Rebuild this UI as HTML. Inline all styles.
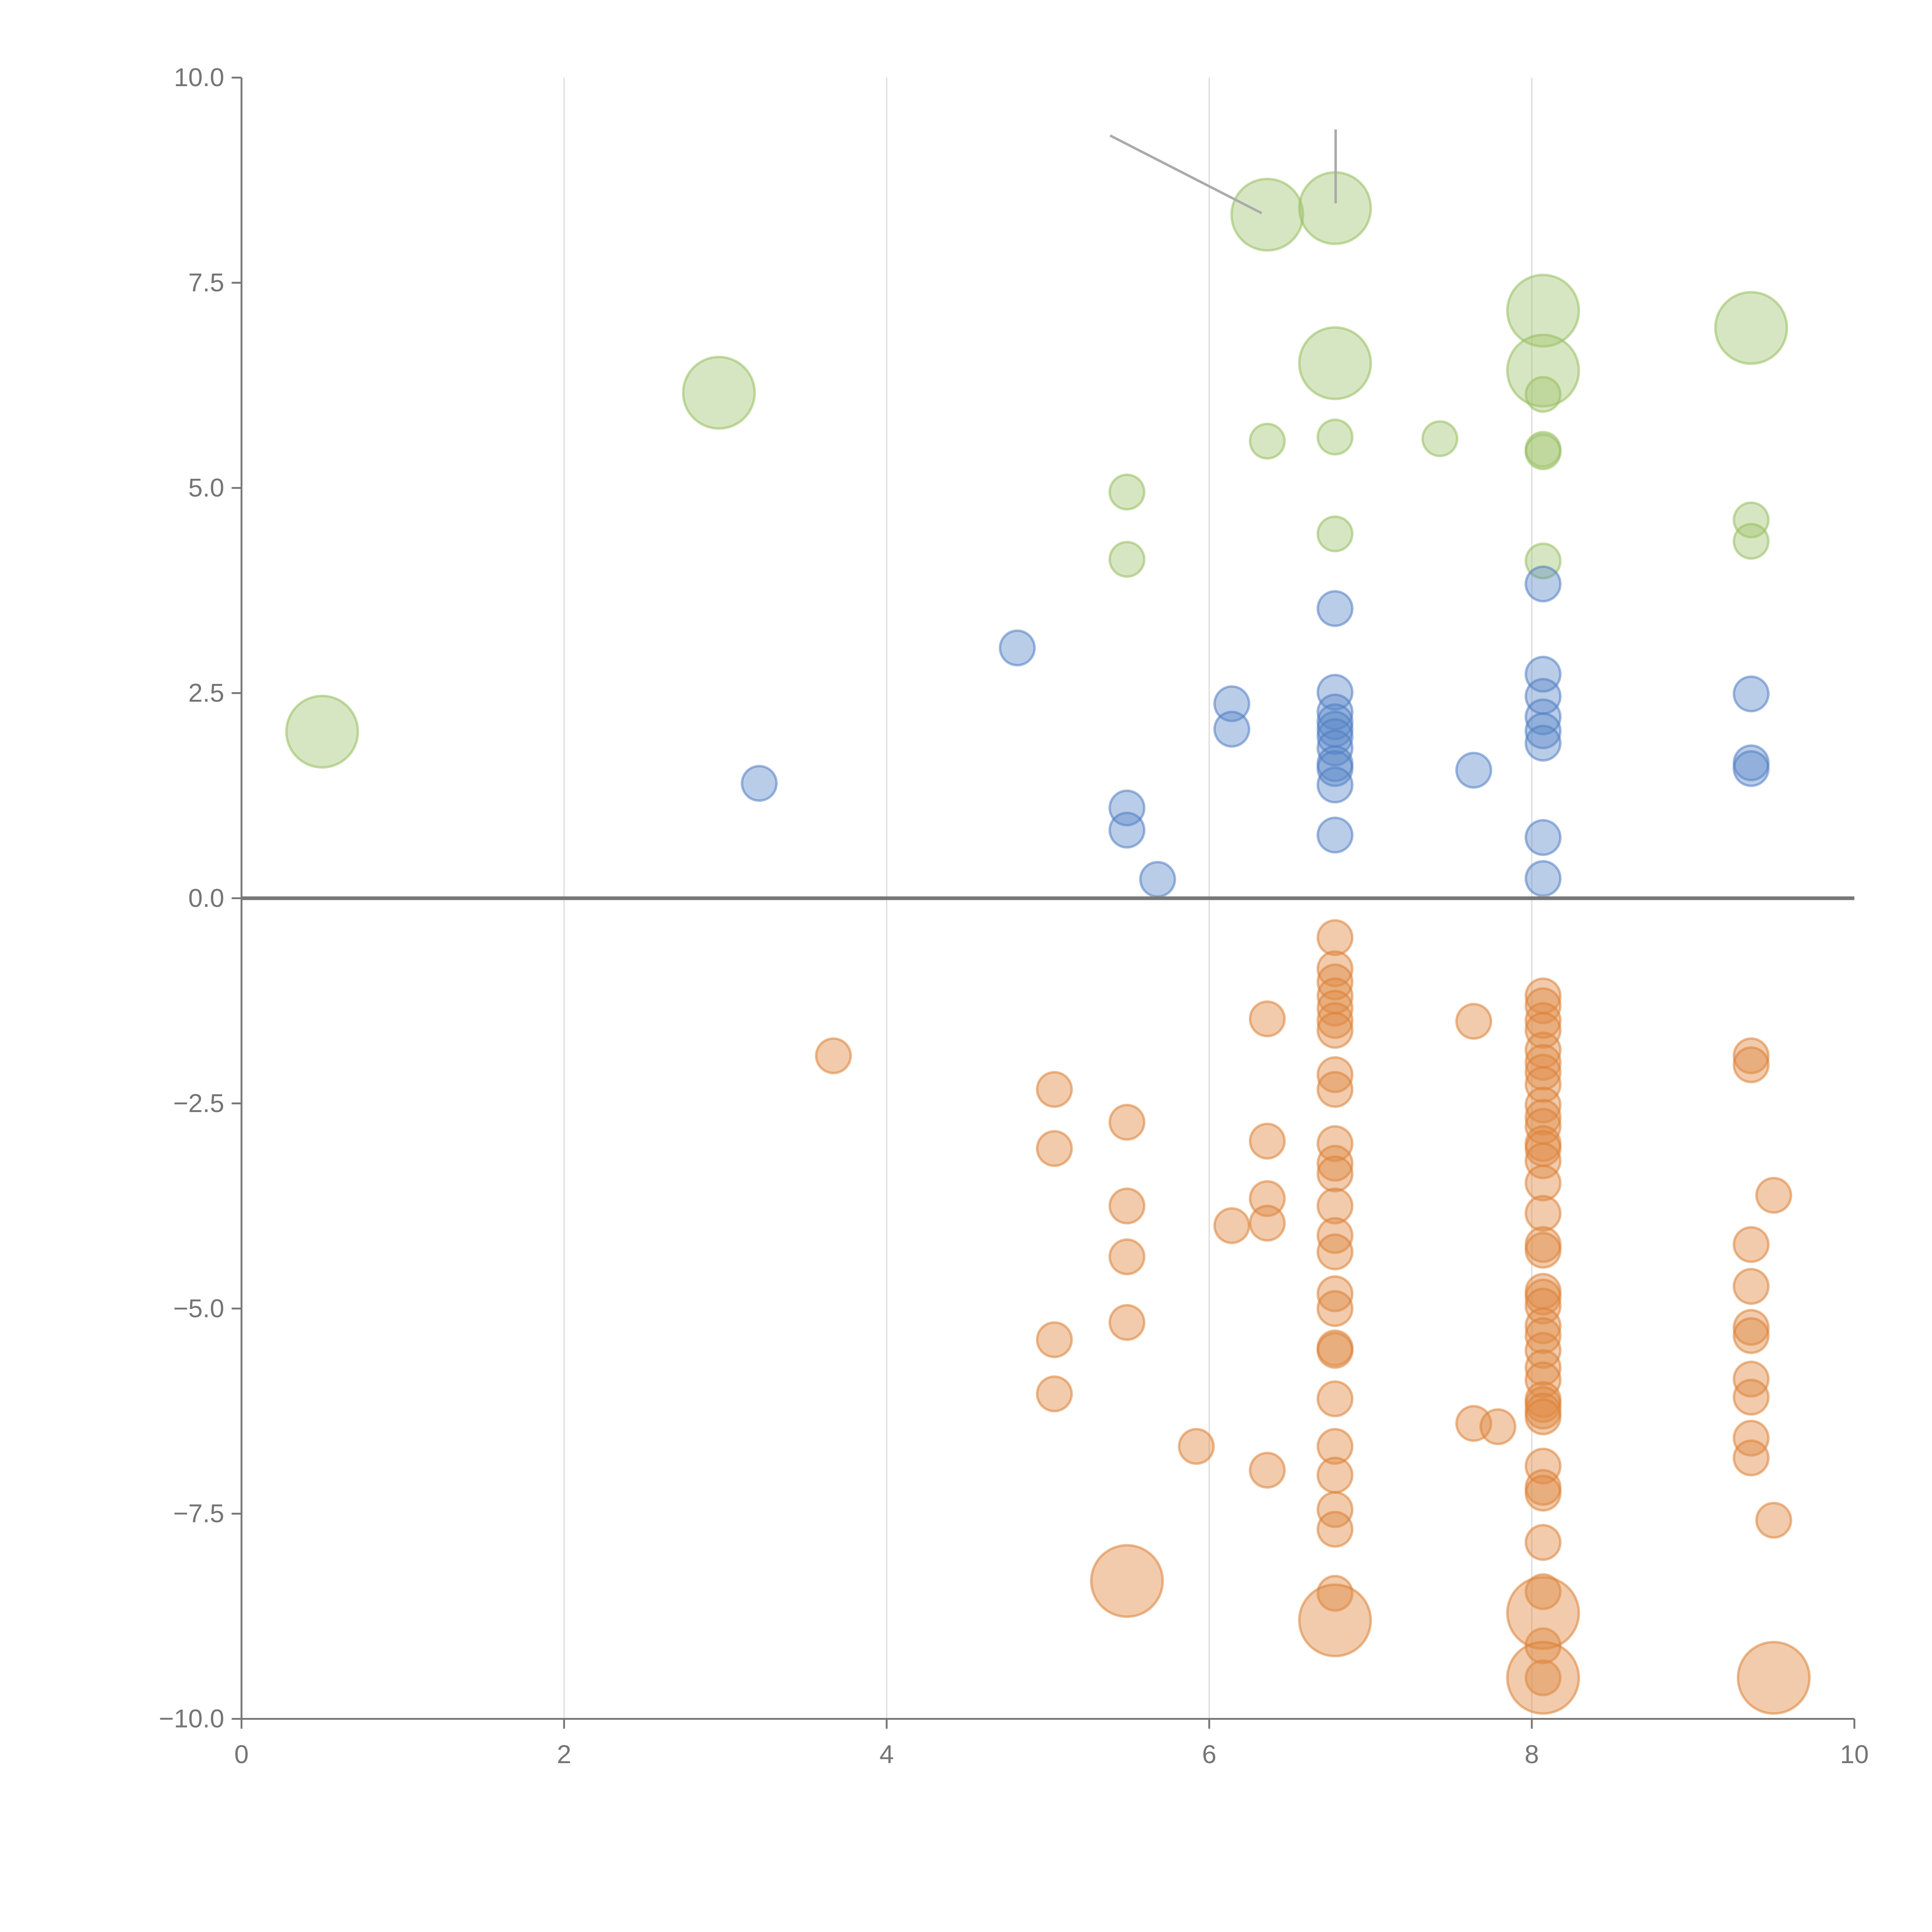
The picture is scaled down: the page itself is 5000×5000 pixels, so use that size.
<!DOCTYPE html>
<html><head><meta charset="utf-8"><style>
html,body{margin:0;padding:0;background:#fff;width:5000px;height:5000px;overflow:hidden}
svg{display:block}
text{font-family:"Liberation Sans",sans-serif;fill:#757575;font-size:21px}
</style></head><body>
<svg id="chart" width="5000" height="5000" viewBox="0 0 1568 1568" xmlns="http://www.w3.org/2000/svg">
<g id="grid"></g>
<g id="marks"></g>
<g id="axes"></g>
</svg>
<script>
const xTicks=[0,2,4,6,8,10];
const yTicks=[10,7.5,5,2.5,0,-2.5,-5,-7.5,-10];
const yTickLabels=["10.0","7.5","5.0","2.5","0.0","\u22122.5","\u22125.0","\u22127.5","\u221210.0"];
const greenX=[0.5,2.96,6.36,6.78,6.78,8.07,8.07,9.36,5.49,5.49,6.36,6.78,7.43,6.78,8.07,8.07,8.07,8.07,9.36,9.36];
const greenY=[2.03,6.16,8.33,8.41,6.52,7.16,6.43,6.95,4.95,4.13,5.57,5.62,5.6,4.44,6.14,5.47,5.44,4.11,4.61,4.35];
const greenS=[2,2,2,2,2,2,2,2,1,1,1,1,1,1,1,1,1,1,1,1];
const blueX=[3.21,4.81,5.49,5.49,5.68,6.14,6.14,6.78,6.78,6.78,6.78,6.78,6.78,6.78,6.78,6.78,6.78,6.78,7.64,8.07,8.07,8.07,8.07,8.07,8.07,8.07,8.07,9.36,9.36,9.36];
const blueY=[1.40,3.05,1.10,0.83,0.23,2.37,2.06,3.53,2.51,2.27,2.15,2.06,1.97,1.83,1.64,1.58,1.38,0.77,1.56,3.83,2.73,2.46,2.21,2.04,1.89,0.74,0.24,2.49,1.65,1.58];
const orangeX=[3.67,5.04,5.04,5.04,5.04,5.49,5.49,5.49,5.49,5.49,5.92,6.14,6.36,6.36,6.36,6.36,6.36,
6.78,6.78,6.78,6.78,6.78,6.78,6.78,6.78,6.78,6.78,6.78,6.78,6.78,6.78,6.78,6.78,6.78,6.78,6.78,6.78,6.78,6.78,6.78,6.78,6.78,6.78,
7.64,7.64,7.79,
8.07,8.07,8.07,8.07,8.07,8.07,8.07,8.07,8.07,8.07,8.07,8.07,8.07,8.07,8.07,8.07,8.07,8.07,8.07,8.07,8.07,8.07,8.07,8.07,8.07,8.07,8.07,8.07,8.07,8.07,8.07,8.07,8.07,8.07,8.07,8.07,8.07,8.07,8.07,
9.36,9.36,9.36,9.36,9.36,9.36,9.36,9.36,9.36,9.36,9.5,9.5,9.5];
const orangeY=[-1.92,-2.33,-3.05,-5.38,-6.04,-2.73,-3.75,-4.37,-5.17,-8.32,-6.68,-3.99,-1.47,-2.96,-3.66,-3.96,-6.97,
-0.48,-0.86,-1.02,-1.19,-1.34,-1.49,-1.61,-2.15,-2.33,-2.99,-3.23,-3.36,-3.75,-4.11,-4.31,-4.82,-5.0,-5.48,-5.51,-6.10,-6.68,-7.03,-7.45,-7.69,-8.47,-8.8,
-1.50,-6.40,-6.44,
-1.19,-1.31,-1.49,-1.61,-1.85,-2.0,-2.12,-2.27,-2.52,-2.67,-2.78,-2.99,-3.05,-3.2,-3.47,-3.84,-4.22,-4.29,-4.79,-4.86,-4.97,-5.21,-5.33,-5.51,-5.72,-5.87,-6.11,-6.17,-6.25,-6.32,-6.92,-7.18,-7.25,-7.85,-8.45,-9.11,-9.5,-8.71,-9.5,
-1.92,-2.03,-4.22,-4.73,-5.23,-5.33,-5.86,-6.08,-6.58,-6.82,-3.62,-7.58,-9.5];
const orangeS=[1,1,1,1,1,1,1,1,1,2,1,1,1,1,1,1,1,
1,1,1,1,1,1,1,1,1,1,1,1,1,1,1,1,1,1,1,1,1,1,1,1,1,2,
1,1,1,
1,1,1,1,1,1,1,1,1,1,1,1,1,1,1,1,1,1,1,1,1,1,1,1,1,1,1,1,1,1,1,1,1,1,1,1,1,2,2,
1,1,1,1,1,1,1,1,1,1,1,1,2];
const X0=196,X1=1505,Y0=1395,Y1=63;
const sx=v=>X0+(v-0)/10*(X1-X0);
const sy=v=>Y0-(v+10)/20*(Y0-Y1);
const sr=s=>s===2?29:14;
const NS="http://www.w3.org/2000/svg";
function mk(tag,attrs,parent){const e=document.createElementNS(NS,tag);for(const k in attrs)e.setAttribute(k,attrs[k]);parent.appendChild(e);return e;}
const grid=document.getElementById('grid'),marks=document.getElementById('marks'),axes=document.getElementById('axes');
xTicks.forEach(t=>{if(t>0&&t<10){const l=mk('line',{x1:sx(t),x2:sx(t),y1:Y1,y2:Y0,stroke:'#dcdcdc','stroke-width':1},grid);

}});
function series(xs,ys,ss,fill,stroke,name){xs.forEach((x,i)=>{const c=mk('circle',{cx:sx(x),cy:sy(ys[i]),r:sr(ss?ss[i]:1),fill:fill,stroke:stroke,'stroke-width':2},marks);

});}
series(greenX,greenY,greenS,'rgba(160,195,110,0.42)','rgba(150,190,95,0.55)','green-bubble');
series(blueX,blueY,null,'rgba(90,135,200,0.42)','rgba(80,125,195,0.55)','blue-bubble');
series(orangeX,orangeY,orangeS,'rgba(225,140,70,0.45)','rgba(220,130,55,0.55)','orange-bubble');
const a1=mk('line',{x1:901,y1:110,x2:1024,y2:173,stroke:'#aaa','stroke-width':2},axes);


const a2=mk('line',{x1:1084,y1:105,x2:1084,y2:165,stroke:'#aaa','stroke-width':2},axes);


const ya=mk('line',{x1:X0,x2:X0,y1:Y1,y2:Y0,stroke:'#777','stroke-width':1.5},axes);


const xa=mk('line',{x1:X0,x2:X1,y1:Y0,y2:Y0,stroke:'#777','stroke-width':1.5},axes);


const zl=mk('line',{x1:X0,x2:X1,y1:sy(0),y2:sy(0),stroke:'#777','stroke-width':3},axes);


xTicks.forEach(t=>{mk('line',{x1:sx(t),x2:sx(t),y1:Y0,y2:Y0+8,stroke:'#777','stroke-width':1.5},axes);
const tx=mk('text',{x:sx(t),y:Y0+36,'text-anchor':'middle'},axes);tx.textContent=t;

});
yTicks.forEach((t,i)=>{mk('line',{x1:X0-8,x2:X0,y1:sy(t),y2:sy(t),stroke:'#777','stroke-width':1.5},axes);
const tx=mk('text',{x:X0-14,y:sy(t)+7,'text-anchor':'end'},axes);tx.textContent=yTickLabels[i];

});
</script>
</body></html>
